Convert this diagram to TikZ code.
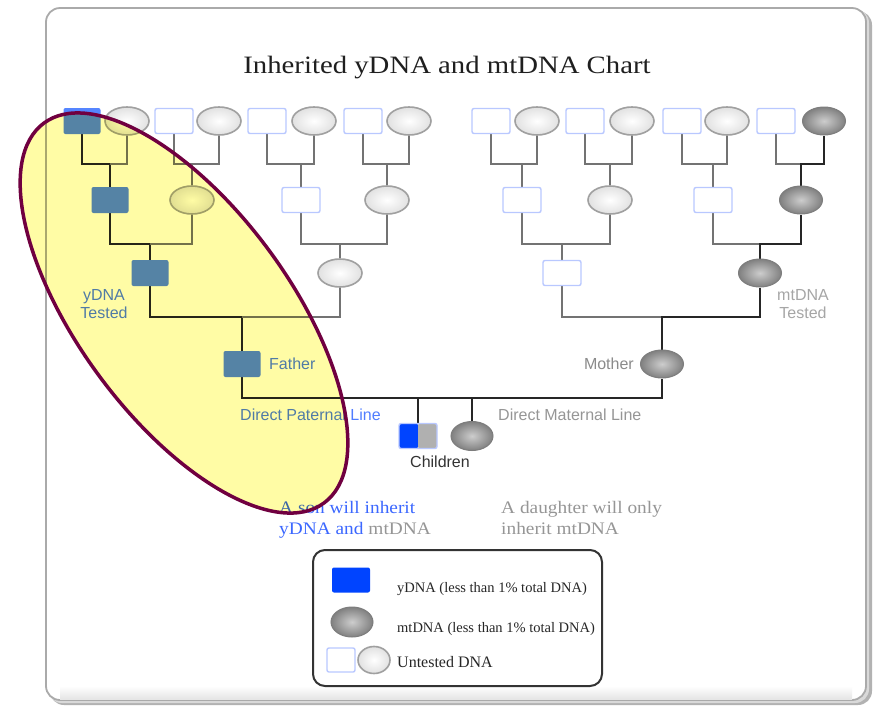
\documentclass[tikz,border=0pt]{standalone}
\usepackage{fontspec}
\setmainfont{Liberation Serif}
\setsansfont{Liberation Sans}
\newfontfamily\wideserif[FakeStretch=1.1]{Liberation Serif}
\newfontfamily\titleserif[FakeStretch=1.15]{Liberation Serif}
\usetikzlibrary{shapes.geometric}
\definecolor{tblue}{RGB}{85,133,255}
\definecolor{sblue}{RGB}{0,68,255}
\definecolor{urb}{RGB}{185,200,255}
\definecolor{ueb}{RGB}{160,160,160}
\definecolor{uefill}{RGB}{225,225,225}
\definecolor{mtin}{RGB}{205,205,205}
\definecolor{mtout}{RGB}{128,128,128}
\definecolor{mtb}{RGB}{125,125,125}
\definecolor{lgray}{RGB}{115,115,115}
\definecolor{ldark}{RGB}{38,38,38}
\definecolor{hyel}{RGB}{255,252,165}
\definecolor{hborder}{RGB}{112,0,64}
\definecolor{lblue}{RGB}{80,125,255}
\definecolor{tblue2}{RGB}{60,104,255}
\definecolor{tgray}{RGB}{150,150,150}
\definecolor{chgray}{RGB}{176,176,176}
\definecolor{framegray}{RGB}{170,170,170}
\pgfdeclarelayer{framelayer}
\pgfdeclarelayer{linelayer}
\pgfdeclarelayer{toplayer}
\pgfsetlayers{framelayer,linelayer,main,toplayer}
\begin{document}
\begin{tikzpicture}[x=1pt,y=-1pt,
  urect/.style={draw=urb, line width=1.4pt, fill=white, rounded corners=2pt, minimum width=38pt, minimum height=25pt, inner sep=0pt},
  uell/.style={ellipse, draw=ueb, line width=1.6pt, inner color=white, outer color=uefill, minimum width=44pt, minimum height=28pt, inner sep=0pt},
  trect/.style={fill=tblue, rounded corners=2pt, minimum width=37pt, minimum height=26pt, inner sep=0pt},
  mell/.style={ellipse, draw=mtb, line width=1pt, inner color=mtin, outer color=mtout, minimum width=43pt, minimum height=28pt, inner sep=0pt},
  glink/.style={draw=lgray, line width=2.9pt},
  dlink/.style={draw=ldark, line width=2.9pt},
  slabel/.style={font=\sffamily\fontsize{16}{18}\selectfont, inner sep=0pt},
  btext/.style={font=\wideserif\fontsize{17.6}{21}\selectfont, inner sep=0pt, anchor=base west},
  legtext/.style={font=\fontsize{14.5}{16}\selectfont, inner sep=0pt, anchor=base west, text=black!85}
]
\useasboundingbox (0,0) rectangle (879,705);
\begin{pgfonlayer}{framelayer}
\fill[white] (0,0) rectangle (879,705);
\fill[gray!60, rounded corners=14pt] (50,11) rectangle (872,705);
\fill[gray!30, rounded corners=14pt] (48,9) rectangle (869,703);
\draw[fill=white, draw=framegray, line width=1.8pt, rounded corners=14pt] (46,8) rectangle (866,700);
\shade[top color=white, bottom color=gray!20] (60,686) rectangle (852,699);
\end{pgfonlayer}

% title
\node[font=\titleserif\fontsize{25}{28}\selectfont, text=black!88] (title) at (447,68) {Inherited yDNA and mtDNA Chart};

% bar levels
\coordinate (b1) at (0,164);
\coordinate (b2) at (0,244);
\coordinate (b3) at (0,317);
\coordinate (b4) at (0,398);

% generation 1
\node[trect] (r1) at (82,121) {};
\node[uell]  (e1) at (127,121) {};
\node[urect] (r2) at (174,121) {};
\node[uell]  (e2) at (219,121) {};
\node[urect] (r3) at (267,121) {};
\node[uell]  (e3) at (314,121) {};
\node[urect] (r4) at (363,121) {};
\node[uell]  (e4) at (409,121) {};
\node[urect] (r5) at (491,121) {};
\node[uell]  (e5) at (537,121) {};
\node[urect] (r6) at (585,121) {};
\node[uell]  (e6) at (632,121) {};
\node[urect] (r7) at (682,121) {};
\node[uell]  (e7) at (727,121) {};
\node[urect] (r8) at (776,121) {};
\node[mell]  (e8) at (824,121) {};

% generation 2
\node[trect] (g2a) at (110,200) {};
\node[uell]  (g2b) at (192,200) {};
\node[urect] (g2c) at (301,200) {};
\node[uell]  (g2d) at (387,200) {};
\node[urect] (g2e) at (522,200) {};
\node[uell]  (g2f) at (610,200) {};
\node[urect] (g2g) at (713,200) {};
\node[mell]  (g2h) at (801,200) {};

% generation 3
\node[trect] (g3a) at (150,273) {};
\node[uell]  (g3b) at (340,273) {};
\node[urect] (g3c) at (562,273) {};
\node[mell]  (g3d) at (760,273) {};

% parents
\node[trect] (fa) at (242,364) {};
\node[mell]  (mo) at (662,364) {};

% children
\node[urect, path picture={
  \fill[sblue] (path picture bounding box.south west) rectangle (path picture bounding box.north);
  \fill[chgray] (path picture bounding box.north) rectangle (path picture bounding box.south east);}] (c1) at (418,436) {};
\node[mell, minimum width=42pt, minimum height=29pt] (c2) at (472,436) {};

\begin{pgfonlayer}{linelayer}
% gen1 -> gen2
\draw[dlink] (r1.south) -- (r1.south |- b1) -- (g2a.north |- b1) -- (g2a.north);
\draw[glink] (g2a.north |- b1) -- (e1.south |- b1) -- (e1.south);
\draw[glink] (r2.south) -- (r2.south |- b1) -- (e2.south |- b1) -- (e2.south);
\draw[glink] (g2b.north) -- (g2b.north |- b1);
\draw[glink] (r3.south) -- (r3.south |- b1) -- (e3.south |- b1) -- (e3.south);
\draw[glink] (g2c.north) -- (g2c.north |- b1);
\draw[glink] (r4.south) -- (r4.south |- b1) -- (e4.south |- b1) -- (e4.south);
\draw[glink] (g2d.north) -- (g2d.north |- b1);
\draw[glink] (r5.south) -- (r5.south |- b1) -- (e5.south |- b1) -- (e5.south);
\draw[glink] (g2e.north) -- (g2e.north |- b1);
\draw[glink] (r6.south) -- (r6.south |- b1) -- (e6.south |- b1) -- (e6.south);
\draw[glink] (g2f.north) -- (g2f.north |- b1);
\draw[glink] (r7.south) -- (r7.south |- b1) -- (e7.south |- b1) -- (e7.south);
\draw[glink] (g2g.north) -- (g2g.north |- b1);
\draw[glink] (r8.south) -- (r8.south |- b1) -- (g2h.north |- b1);
\draw[dlink] (g2h.north) -- (g2h.north |- b1) -- (e8.south |- b1) -- (e8.south);
% gen2 -> gen3
\draw[dlink] (g2a.south) -- (g2a.south |- b2) -- (g3a.north |- b2) -- (g3a.north);
\draw[glink] (g3a.north |- b2) -- (g2b.south |- b2) -- (g2b.south);
\draw[glink] (g2c.south) -- (g2c.south |- b2) -- (g2d.south |- b2) -- (g2d.south);
\draw[glink] (g3b.north) -- (g3b.north |- b2);
\draw[glink] (g2e.south) -- (g2e.south |- b2) -- (g2f.south |- b2) -- (g2f.south);
\draw[glink] (g3c.north) -- (g3c.north |- b2);
\draw[glink] (g2g.south) -- (g2g.south |- b2) -- (g3d.north |- b2);
\draw[dlink] (g3d.north) -- (g3d.north |- b2) -- (g2h.south |- b2) -- (g2h.south);
% gen3 -> parents
\draw[dlink] (g3a.south) -- (g3a.south |- b3) -- (fa.north |- b3) -- (fa.north);
\draw[glink] (fa.north |- b3) -- (g3b.south |- b3) -- (g3b.south);
\draw[glink] (g3c.south) -- (g3c.south |- b3) -- (mo.north |- b3);
\draw[dlink] (mo.north) -- (mo.north |- b3) -- (g3d.south |- b3) -- (g3d.south);
% parents -> children
\draw[dlink] (fa.south) -- (fa.south |- b4) -- (mo.south |- b4) -- (mo.south);
\draw[dlink] (c1.north) -- (c1.north |- b4);
\draw[dlink] (c2.north) -- (c2.north |- b4);
\end{pgfonlayer}

% labels
\node[slabel, text=lblue, align=center] (ylab) at (104,304) {yDNA\\Tested};
\node[slabel, text=tgray!85, align=center] (mlab) at (803,304) {mtDNA\\Tested};
\node[slabel, text=lblue, anchor=west] (falab) at (269,364) {Father};
\node[slabel, text=tgray!110, anchor=east] (molab) at (634,364) {Mother};
\node[slabel, text=lblue, anchor=west] (dpl) at (240,415) {Direct Paternal Line};
\node[slabel, text=tgray, anchor=west] (dml) at (498,415) {Direct Maternal Line};
\node[slabel, text=black!80] (chlab) at (440,462) {Children};

% bottom texts
\node[btext, text=tblue2] (son1) at (279,513) {A son will inherit};
\node[btext] (son2) at (279,534) {\textcolor{tblue2}{yDNA and} \textcolor{tgray}{mtDNA}};
\node[btext, text=tgray] (dau1) at (501,513) {A daughter will only};
\node[btext, text=tgray] (dau2) at (501,534) {inherit mtDNA};

% legend
\node[draw=black!80, line width=2pt, rounded corners=12pt, minimum width=289pt, minimum height=136pt, inner sep=0pt] (legend) at (457.5,618) {};
\node[fill=sblue, rounded corners=2pt, minimum width=38pt, minimum height=25pt, inner sep=0pt] (lg1) at (351,580) {};
\node[mell, minimum width=42pt, minimum height=30pt] (lg2) at (352,622) {};
\node[urect, minimum width=28pt, minimum height=24pt] (lg3) at (341,660) {};
\node[uell, minimum width=32pt, minimum height=27pt] (lg4) at (374,660) {};
\node[legtext] (lt1) at (397,592) {yDNA (less than 1\% total DNA)};
\node[legtext] (lt2) at (397,632) {mtDNA (less than 1\% total DNA)};
\node[legtext, font=\fontsize{16}{18}\selectfont] (lt3) at (397,667) {Untested DNA};

% highlight
\begin{pgfonlayer}{toplayer}
\fill[hyel, blend mode=multiply, rotate around={-53.6:(184,313)}] (184,313) ellipse [x radius=236pt, y radius=105.6pt];
\draw[hborder, line width=3.5pt, rotate around={-53.6:(184,313)}] (184,313) ellipse [x radius=236pt, y radius=105.6pt];
\end{pgfonlayer}
\end{tikzpicture}
\end{document}
